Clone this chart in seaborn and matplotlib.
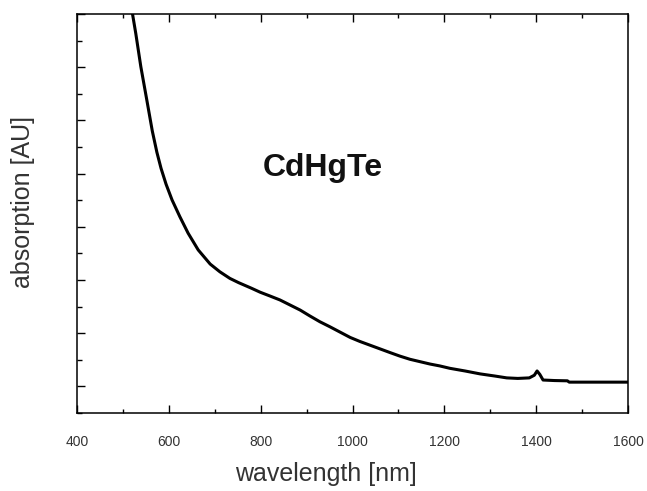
import matplotlib
matplotlib.use("Agg")
import matplotlib.pyplot as plt
from matplotlib.ticker import MultipleLocator, NullFormatter
import seaborn as sns
import pandas as pd

# ---- data ----
wavelength_nm = [518, 528, 539, 552, 564, 574, 583, 594, 607, 624, 642, 664,
                 690, 711, 733, 752, 780, 799, 820, 842, 864, 886, 907, 929,
                 951, 973, 995, 1016, 1038, 1060, 1082, 1103, 1125, 1147,
                 1169, 1190, 1212, 1245, 1278, 1310, 1336, 1360, 1385, 1396,
                 1402, 1408, 1415, 1440, 1468, 1472, 1600]
absorption_au = [15.3, 14.27, 13.02, 11.77, 10.60, 9.80, 9.20, 8.60, 8.01,
                 7.38, 6.76, 6.13, 5.60, 5.31, 5.06, 4.90, 4.69, 4.54, 4.40,
                 4.25, 4.06, 3.87, 3.65, 3.43, 3.24, 3.04, 2.84, 2.69, 2.55,
                 2.41, 2.27, 2.14, 2.02, 1.93, 1.84, 1.77, 1.68, 1.58, 1.47,
                 1.39, 1.32, 1.30, 1.32, 1.42, 1.58, 1.45, 1.24, 1.22, 1.21,
                 1.16, 1.16]
x_ticks = [400, 600, 800, 1000, 1200, 1400, 1600]
sample_label = "CdHgTe"
x_label = "wavelength [nm]"
y_label = "absorption [AU]"

df = pd.DataFrame({"wavelength": wavelength_nm, "absorption": absorption_au})

sns.set_style("ticks")
plt.rcParams["font.family"] = ["Liberation Sans", "DejaVu Sans"]

fig = plt.figure(figsize=(6.47, 4.91), dpi=100)
ax = fig.add_axes([77 / 647, 1 - 413 / 491, (628 - 77) / 647, (413 - 14) / 491])

sns.lineplot(data=df, x="wavelength", y="absorption", ax=ax,
             color="black", linewidth=2.2, sort=False)

ax.set_xlim(400, 1600)
ax.set_ylim(0, 15)
ax.set_xticks(x_ticks)
ax.xaxis.set_minor_locator(MultipleLocator(100))
ax.yaxis.set_major_locator(MultipleLocator(2, offset=1))
ax.yaxis.set_minor_locator(MultipleLocator(1))
ax.yaxis.set_major_formatter(NullFormatter())

for s in ax.spines.values():
    s.set_visible(True)
    s.set_linewidth(1.1)
    s.set_color("black")

ax.tick_params(axis="x", which="both", direction="in", top=True, bottom=True,
               width=1.0, color="black", labelsize=10, labelcolor="#333333",
               pad=16)
ax.tick_params(axis="x", which="major", length=5.5)
ax.tick_params(axis="x", which="minor", length=2.8)
ax.tick_params(axis="y", which="both", direction="in", left=True, right=False,
               width=1.0, color="black", labelleft=False)
ax.tick_params(axis="y", which="major", length=6)
ax.tick_params(axis="y", which="minor", length=3.5)

ax.set_xlabel(x_label, fontsize=18, color="#333333")
ax.set_ylabel(y_label, fontsize=18, color="#333333")
ax.xaxis.set_label_coords(0.452, -0.122)
ax.yaxis.set_label_coords(-0.076, 0.53)

ax.text(0.446, 0.614, sample_label, transform=ax.transAxes, ha="center",
        va="center", fontsize=23, fontweight="bold", color="#111111")

ax.grid(False)
fig.savefig("out.png", dpi=100, facecolor="white")
